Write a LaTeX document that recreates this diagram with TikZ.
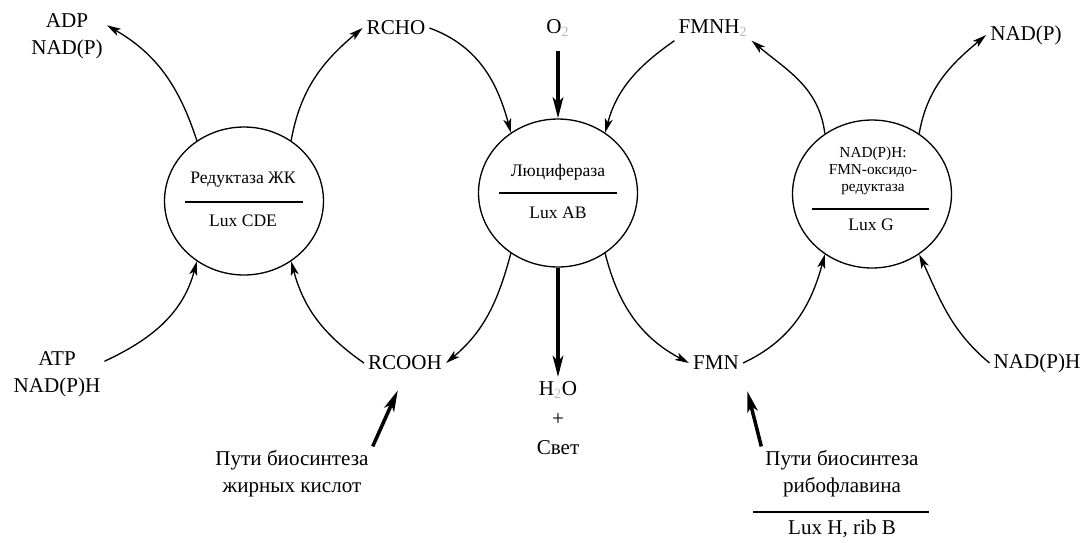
\documentclass[tikz,border=0pt]{standalone}
\usepackage{fontspec}
\setmainfont{Liberation Serif}
\usetikzlibrary{positioning}
\usetikzlibrary{arrows.meta}
\usetikzlibrary{shapes.geometric}

\begin{document}
\begin{tikzpicture}[x=0.02cm, y=0.02cm, ->, >={Stealth[length=8pt, width=4.5pt, inset=2pt]}, line width=0.75pt, black, node distance=0.81cm,
    enzyme/.style={ellipse, draw, line width=0.75pt, minimum width=3.18cm, minimum height=2.96cm, inner sep=0pt},
    ename/.style={font=\fontsize{10}{12}\selectfont},
    metab/.style={font=\fontsize{12}{15.5}\selectfont, align=center, inner sep=2pt},
    heavy/.style={line width=2pt, -{Stealth[length=12pt, width=6pt, inset=3pt]}}]
  \useasboundingbox (0,0) rectangle (1086,-542);

  \node[enzyme] (red) at (244,-201) {};
  \node[enzyme] (luc) at (558,-193) {};
  \node[enzyme] (oxr) at (872,-194) {};

  \node[ename] (redname) at (243,-180) {Редуктаза ЖК};
  \node[ename] (redgene) [below of = redname] {Lux CDE};
  \node[ename] (lucname) at (558,-172) {Люцифераза};
  \node[ename] (lucgene) [below of = lucname] {Lux AB};
  \node[ename, font=\fontsize{8.7}{9.6}\selectfont, align=center] (oxrname) at (873,-171) {NAD(P)H:\\FMN-оксидо-\\редуктаза};
  \node[ename] (oxrgene) at (871,-225) {Lux G};
  \draw[-] (185,-202) -- (303,-202);
  \draw[-] (499,-193) -- (617,-193);
  \draw[-] (812,-209) -- (929,-209);

  \node[metab] (adp) at (67,-36) {ADP\\NAD(P)};
  \node[metab] (atp) at (57,-374) {ATP\\NAD(P)H};
  \node[metab] (rcho) at (396,-28) {RCHO};
  \node[metab] (o2) at (558,-28) {O\textsubscript{\color{gray!55}2}};
  \node[metab] (fmnh) at (713,-28) {FMNH\textsubscript{\color{gray!55}2}};
  \node[metab] (nadp) at (1026,-35) {NAD(P)};
  \node[metab] (rcooh) at (405,-363) {RCOOH};
  \node[metab, anchor=north, font=\fontsize{12}{17}\selectfont] (h2o) at (558,-377) {H\textsubscript{\color{gray!55}2}O\\+\\Свет};
  \node[metab] (fmn) at (716,-363) {FMN};
  \node[metab] (nadph) at (1037,-363) {NAD(P)H};
  \node[metab] (fapath) at (292,-474) {Пути биосинтеза\\жирных кислот};
  \node[metab] (ribpath) at (842,-474) {Пути биосинтеза\\рибофлавина};
  \node[metab] (ribgene) at (842,-529) {Lux H, rib B};
  \draw[-] (753,-512) -- (929,-512);

  \path
  (red.128) edge [out=108, in=-30] (adp.15)
  (red.52) edge [out=80, in=-140] (rcho.west)
  (atp.15) edge [out=25, in=-105] (red.-128)
  (rcooh.west) edge [out=145, in=-75] (red.-52)
  (rcho.east) edge [out=-20, in=105] (luc.128)
  (fmnh.south west) edge [out=-145, in=75] (luc.52)
  (luc.-128) edge [out=-105, in=40] (rcooh.east)
  (luc.-52) edge [out=-76, in=152] (fmn.west)
  (oxr.128) edge [out=97, in=-40] (fmnh.south east)
  (oxr.52) edge [out=80, in=-140] (nadp.west)
  (fmn.east) edge [out=25, in=-105] (oxr.-128)
  (nadph.west) edge [out=140, in=-65] (oxr.-52);

  \draw[heavy, shorten <=6pt] (o2) -- (luc);
  \draw[heavy] (luc) -- (h2o);
  \draw[heavy, shorten >=10pt] (fapath.north east) -- (rcooh.south);
  \draw[heavy, shorten >=10pt] (ribpath.north west) -- (fmn.south east);
\end{tikzpicture}
\end{document}
